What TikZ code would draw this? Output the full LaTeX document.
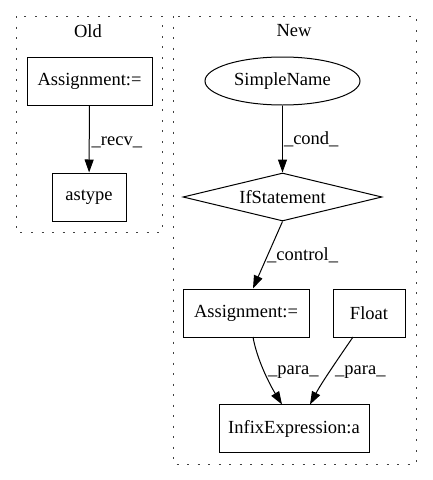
\documentclass[tikz,border=0pt]{standalone}
\usepackage{fontspec}
\setmainfont{Liberation Serif}
\usetikzlibrary{shapes.geometric,arrows.meta}
\begin{document}
\begin{tikzpicture}[x=1pt,y=-1pt,
  every node/.style={font=\fontsize{18.5}{20}\selectfont},
  cluster/.style={draw=black!75,line width=1pt,dash pattern=on 2pt off 8.5pt},
  box/.style={draw,line width=1pt,rectangle,minimum height=48pt,inner sep=0pt},
  ell/.style={draw,line width=1pt,ellipse,minimum width=155pt,minimum height=48pt,inner sep=0pt},
  dia/.style={draw,line width=1pt,diamond,aspect=4.1,minimum width=199pt,minimum height=48pt,inner sep=0pt},
  edge/.style={draw,line width=1pt,-{Triangle[length=13pt,width=9pt]}},
  elab/.style={anchor=west,inner sep=0pt}]
\useasboundingbox (0,0) rectangle (432,480);
% clusters
\draw[cluster] (16,16) rectangle (162,232);
\draw[cluster] (173,16) rectangle (416,464);
\node (oldlab) at (88,31) {Old};
\node (newlab) at (294,31) {New};
% old nodes
\node[box,minimum width=125pt] (oasg) at (89.5,81) {Assignment:=};
\node[box,minimum width=74pt] (astype) at (89,197) {astype};
\draw[edge] (oasg) -- (astype) node[elab,pos=0.55,xshift=2pt] {\_recv\_};
% new nodes
\node[ell] (sn) at (282.5,81) {SimpleName};
\node[dia] (ifs) at (282.5,197) {IfStatement};
\node[box,minimum width=126pt] (nasg) at (246,313) {Assignment:=};
\node[box,minimum width=72pt] (flt) at (369,313) {Float};
\node[box,minimum width=150pt] (infix) at (294,428.5) {InfixExpression:a};
\draw[edge] (sn) -- (ifs) node[elab,pos=0.5,xshift=1pt] {\_cond\_};
\draw[edge] (ifs.south) -- (nasg.north -| 253,0) coordinate (c1);
\node[elab] (ctl) at (267,255) {\_control\_};
\draw[edge] (253,337) .. controls (257,360) and (270,385) .. (282,404.5);
\node[elab] (p1) at (268,372) {\_para\_};
\draw[edge] (353,337) .. controls (340,356) and (322,382) .. (310,404.5);
\node[elab] (p2) at (335,372) {\_para\_};
\end{tikzpicture}
\end{document}
